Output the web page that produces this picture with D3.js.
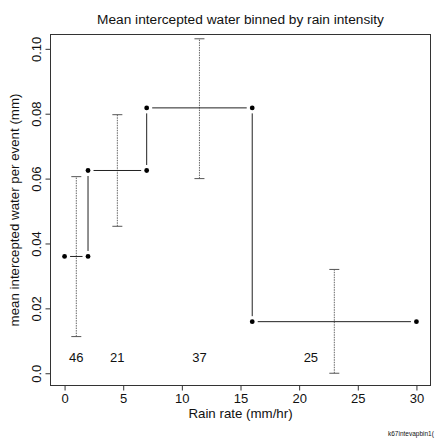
<!DOCTYPE html>
<html><head><meta charset="utf-8">
<script src="https://cdn.jsdelivr.net/npm/d3@7"></script>
<style>body{margin:0;background:#fff}svg{display:block}text{font-family:"Liberation Sans",Arial,Helvetica,sans-serif}</style>
</head><body><svg id="c" width="445" height="438"></svg>
<script>
// Bin edges (mm/hr) and mean intercepted water per bin (mm)
const binStart = [0, 2, 7, 16];
const binEnd = [2, 7, 16, 30];
const binMean = [0.036, 0.0625, 0.0818, 0.0159];
// error bars
const errX = [1, 4.5, 11.5, 23];
const errLow = [0.0113, 0.0453, 0.060, 0.0];
const errHigh = [0.0606, 0.0797, 0.1031, 0.032];
// counts
const countX = [1, 4.5, 11.5, 21];
const countLabel = ["46", "21", "37", "25"];
const countY = 0.005;
const xTicks = [0, 5, 10, 15, 20, 25, 30];
const yTicks = [0, 0.02, 0.04, 0.06, 0.08, 0.10];
const yTickLabels = ["0.0", "0.02", "0.04", "0.06", "0.08", "0.10"];

const svg = d3.select("#c");
const L = 50.5, R = 430.5, T = 34.5, B = 385.5;
const x = d3.scaleLinear().domain([-1.2, 31.2]).range([L, R]);
const y = d3.scaleLinear().domain([-0.00378, 0.10442]).range([B, T]);

// axes
const xa = svg.append("g").attr("transform", `translate(0,${B})`)
  .call(d3.axisBottom(x).tickValues(xTicks).tickSize(5).tickSizeOuter(0).tickFormat(d3.format("d")));
xa.select(".domain").remove();
xa.selectAll("line").attr("stroke", "#333");
xa.selectAll("text").attr("font-size", 13).attr("fill", "#111").attr("dy", "0.95em").attr("y", 5);

const ya = svg.append("g").attr("transform", `translate(${L},0)`)
  .call(d3.axisLeft(y).tickValues(yTicks).tickSize(5).tickSizeOuter(0).tickFormat((d, i) => yTickLabels[i]));
ya.select(".domain").remove();
ya.selectAll("line").attr("stroke", "#333");
ya.selectAll("text").attr("font-size", 13).attr("fill", "#111")
  .attr("x", 0).attr("dy", 0).attr("text-anchor", "middle")
  .attr("transform", "translate(-10,0) rotate(-90)");

svg.append("rect").attr("x", L).attr("y", T).attr("width", R - L).attr("height", B - T)
  .attr("fill", "none").attr("stroke", "#333").attr("stroke-width", 1);

// error bars
const eb = svg.append("g");
errX.forEach((ex, i) => {
  eb.append("line").attr("x1", x(ex)).attr("x2", x(ex)).attr("y1", y(errLow[i])).attr("y2", y(errHigh[i]))
    .attr("stroke", "#666").attr("stroke-width", 1).attr("stroke-dasharray", "1.5,1");
  [errLow[i], errHigh[i]].forEach(v => {
    eb.append("line").attr("x1", x(ex) - 5).attr("x2", x(ex) + 5).attr("y1", y(v)).attr("y2", y(v))
      .attr("stroke", "#555").attr("stroke-width", 1);
  });
});

// step line with points (type "b")
const pts = [];
binStart.forEach((s, i) => { pts.push([binStart[i], binMean[i]]); pts.push([binEnd[i], binMean[i]]); });
const gap = 5.5;
const lg = svg.append("g");
for (let i = 0; i < pts.length - 1; i++) {
  const x1 = x(pts[i][0]), y1 = y(pts[i][1]), x2 = x(pts[i + 1][0]), y2 = y(pts[i + 1][1]);
  const len = Math.hypot(x2 - x1, y2 - y1);
  if (len <= 2 * gap) continue;
  const ux = (x2 - x1) / len, uy = (y2 - y1) / len;
  lg.append("line").attr("x1", x1 + ux * gap).attr("y1", y1 + uy * gap)
    .attr("x2", x2 - ux * gap).attr("y2", y2 - uy * gap)
    .attr("stroke", "#222").attr("stroke-width", 1);
}
lg.selectAll("circle").data(pts).join("circle")
  .attr("cx", d => x(d[0])).attr("cy", d => y(d[1])).attr("r", 2.4).attr("fill", "#000");

// counts
svg.append("g").selectAll("text").data(countLabel).join("text")
  .attr("x", (d, i) => x(countX[i])).attr("y", y(countY)).attr("dy", "0.35em")
  .attr("text-anchor", "middle").attr("font-size", 13).attr("fill", "#111").text(d => d);

// titles
svg.append("text").attr("x", (L + R) / 2).attr("y", 24).attr("text-anchor", "middle")
  .attr("font-size", 13.7).attr("fill", "#111").text("Mean intercepted water binned by rain intensity");
svg.append("text").attr("x", (L + R) / 2).attr("y", 418).attr("text-anchor", "middle")
  .attr("font-size", 13.3).attr("fill", "#111").text("Rain rate (mm/hr)");
svg.append("text").attr("transform", `translate(19,${(T + B) / 2}) rotate(-90)`).attr("text-anchor", "middle")
  .attr("font-size", 13.3).attr("fill", "#111").text("mean intercepted water per event (mm)");
svg.append("text").attr("x", 388).attr("y", 436).attr("font-size", 6.5).attr("fill", "#111").text("k67intevapbin1(");
</script></body></html>
